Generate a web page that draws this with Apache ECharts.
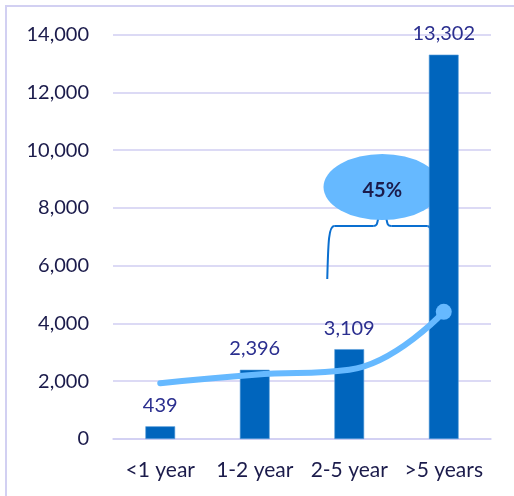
<!DOCTYPE html>
<html>
<head>
<meta charset="utf-8">
<script src="https://cdn.jsdelivr.net/npm/echarts@6/dist/echarts.min.js"></script>
<style>
  html, body { margin: 0; padding: 0; background: #ffffff; }
  #chart { width: 514px; height: 496px; }
</style>
</head>
<body>
<div id="chart"></div>
<script>
// Tenure buckets and counts
const categories = ['<1 year', '1-2 year', '2-5 year', '>5 years'];
const counts = [439, 2396, 3109, 13302];
// Smoothed trend drawn across the buckets
const trend = [1930, 2225, 2400, 4400];
// Value axis ticks
const yMin = 0, yMax = 14000, yStep = 2000;
const shareText = '45%';

const FONT = 'Lato, "Open Sans", sans-serif';
const chart = echarts.init(document.getElementById('chart'), null, { renderer: 'canvas' });

const trendData = trend.map((v, i) => i === trend.length - 1
  ? { value: v, symbol: 'circle', symbolSize: 16 }
  : { value: v, symbol: 'none' });

chart.setOption({
  animation: false,
  backgroundColor: '#ffffff',
  grid: { left: 113, right: 23, top: 34.5, bottom: 57 },
  xAxis: {
    type: 'category',
    data: categories,
    axisTick: { show: false },
    axisLine: { lineStyle: { color: '#d0cef2', width: 1.5 } },
    axisLabel: {
      color: '#1b1b4b', fontSize: 21, fontFamily: FONT, margin: 21,
      interval: 0, hideOverlap: false
    }
  },
  yAxis: {
    type: 'value',
    min: yMin, max: yMax, interval: yStep,
    axisLine: { show: false },
    axisTick: { show: false },
    splitLine: { lineStyle: { color: '#d0cef2', width: 1.5 } },
    axisLabel: {
      color: '#1b1b4b', fontSize: 20, fontFamily: FONT, margin: 24,
      formatter: v => v.toLocaleString('en-US')
    }
  },
  series: [
    {
      type: 'bar',
      data: counts,
      barWidth: '31.5%',
      itemStyle: { color: '#0065bd', borderColor: '#5a9fdc', borderWidth: 0.6 },
      label: {
        show: true, position: 'top', distance: 11,
        color: '#2b2f8f', fontSize: 20, fontFamily: FONT,
        formatter: p => p.value.toLocaleString('en-US')
      },
      z: 2
    },
    {
      type: 'line',
      data: trendData,
      smooth: 0.45,
      symbol: 'none',
      lineStyle: { color: '#66b9ff', width: 6, cap: 'round' },
      itemStyle: { color: '#66b9ff' },
      z: 3
    }
  ]
});

// Annotation: brace over the two longest tenure buckets with the share bubble
function px(cat, val) {
  return chart.convertToPixel({ xAxisIndex: 0, yAxisIndex: 0 }, [cat, val]);
}
const c3 = px(categories[2], 0)[0];
const c4 = px(categories[3], 0)[0];
const yTop = px(categories[2], 7370)[1];
const yBot = px(categories[2], 5540)[1];
const bubble = px(categories[2], 8720);
const bx = c3 + 33, by = bubble[1];
const xL = c3 - 22, xR = c4 - 9.5;
const braceStyle = { stroke: '#0a6fd0', lineWidth: 2, fill: null };

chart.setOption({
  graphic: [
    {
      type: 'rect', silent: true, z: 0,
      shape: { x: 6, y: 6, width: 560, height: 560 },
      style: { fill: null, stroke: '#d2d0f2', lineWidth: 2 }
    },
    {
      type: 'group', z: 10,
      children: [
        { type: 'bezierCurve', shape: { x1: xL, y1: yBot, cpx1: xL + 1, cpy1: yTop + 20, cpx2: xL + 1, cpy2: yTop, x2: xL + 7, y2: yTop }, style: braceStyle },
        { type: 'line', shape: { x1: xL + 7, y1: yTop, x2: bx - 9, y2: yTop }, style: braceStyle },
        { type: 'bezierCurve', shape: { x1: bx - 9, y1: yTop, cpx1: bx - 5, cpy1: yTop, cpx2: bx - 5, cpy2: yTop - 3, x2: bx - 4, y2: yTop - 8 }, style: braceStyle },
        { type: 'bezierCurve', shape: { x1: bx + 4, y1: yTop - 8, cpx1: bx + 5, cpy1: yTop - 3, cpx2: bx + 5, cpy2: yTop, x2: bx + 9, y2: yTop }, style: braceStyle },
        { type: 'line', shape: { x1: bx + 9, y1: yTop, x2: xR - 7, y2: yTop }, style: braceStyle },
        { type: 'bezierCurve', shape: { x1: xR - 7, y1: yTop, cpx1: xR - 1, cpy1: yTop, cpx2: xR, cpy2: yTop + 20, x2: xR, y2: yBot }, style: braceStyle },
        {
          type: 'circle', x: bx, y: by, scaleX: 1.78, scaleY: 1,
          shape: { cx: 0, cy: 0, r: 33 },
          style: { fill: '#66b9ff', stroke: null }
        },
        {
          type: 'text', x: bx, y: by + 3,
          style: {
            text: shareText, fill: '#1b1b4b', font: 'bold 20px ' + FONT,
            align: 'center', verticalAlign: 'middle'
          }
        }
      ]
    }
  ]
});
</script>
</body>
</html>
